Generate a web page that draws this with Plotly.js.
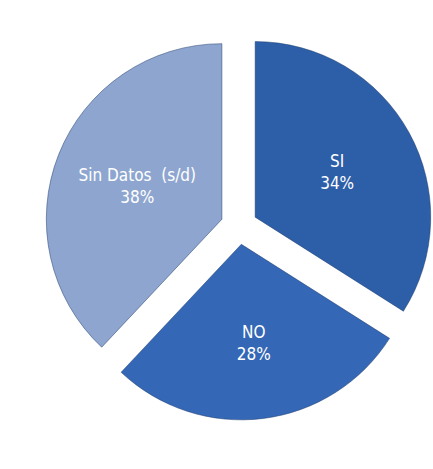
<!DOCTYPE html>
<html>
<head>
<meta charset="utf-8">
<script src="https://cdn.plot.ly/plotly-3.0.1.min.js"></script>
<style>html,body{margin:0;padding:0;background:#fff;}#chart{width:433px;height:469px;}</style>
</head>
<body>
<div id="chart"></div>
<script>
var categories = ["SI", "NO", "Sin Datos  (s/d)"];
var values = [34, 28, 38];
var colors = ["#2D5EA8", "#3467B6", "#8EA6CF"];
var pulls = [0.105, 0.105, 0.105];

var trace = {
  type: "pie",
  labels: categories,
  values: values,
  sort: false,
  direction: "clockwise",
  rotation: 0,
  pull: pulls,
  marker: {colors: colors, line: {color: "rgba(30,60,110,0.5)", width: 1}},
  texttemplate: "%{label}<br>%{percent}",
  textposition: "inside",
  insidetextorientation: "horizontal",
  textfont: {family: "DejaVu Sans Condensed, sans-serif", size: 17, color: "#ffffff"},
  hoverinfo: "none",
  domain: {x: [0.104, 1.0], y: [0.1023, 0.9339]}
};

var layout = {
  width: 433,
  height: 469,
  margin: {l: 0, r: 0, t: 0, b: 0},
  showlegend: false,
  paper_bgcolor: "#ffffff",
  plot_bgcolor: "#ffffff"
};

Plotly.newPlot("chart", [trace], layout, {displayModeBar: false, staticPlot: true});
</script>
</body>
</html>
